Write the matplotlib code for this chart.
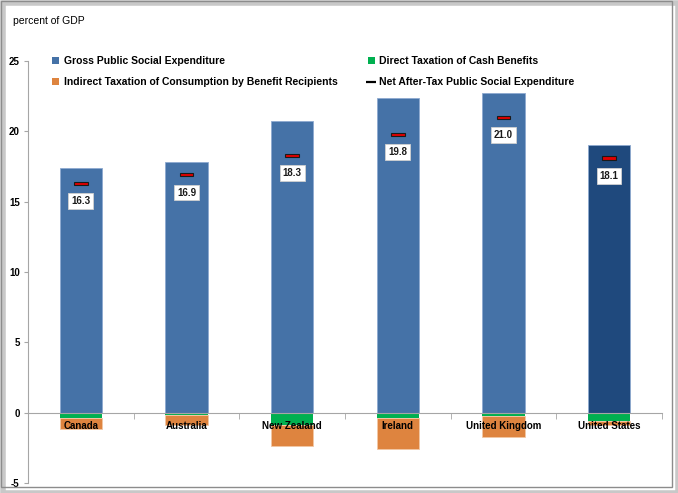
import matplotlib
matplotlib.use("Agg")
import matplotlib.pyplot as plt
from matplotlib.lines import Line2D
from matplotlib.patches import Patch, Rectangle

countries = ["Canada", "Australia", "New Zealand", "Ireland", "United Kingdom", "United States"]
gross = [17.4, 17.8, 20.7, 22.4, 22.7, 19.0]
direct_tax = [-0.35, -0.2, -0.85, -0.35, -0.25, -0.6]
indirect_tax = [-0.8, -0.7, -1.55, -2.2, -1.45, -0.3]
net = [16.3, 16.9, 18.3, 19.8, 21.0, 18.1]
y_ticks = [-5, 0, 5, 10, 15, 20, 25]

BLUE = "#4572A7"
DARK_BLUE = "#1F497D"
GREEN = "#00B050"
ORANGE = "#DE843F"
AXIS_GREY = "#A6A6A6"

plt.rcParams["font.family"] = ["Liberation Sans", "DejaVu Sans"]

fig = plt.figure(figsize=(6.78, 4.93), dpi=100)
ax = fig.add_axes([0.0413, 0.0203, 0.935, 0.856])

# spines first: set_position resets tick formatting
for side in ["top", "right"]:
    ax.spines[side].set_visible(False)
ax.spines["bottom"].set_position(("data", 0))
ax.spines["bottom"].set_color(AXIS_GREY)
ax.spines["bottom"].set_zorder(2.5)
ax.spines["left"].set_color(AXIS_GREY)

x = list(range(len(countries)))
bar_colors = [BLUE] * (len(countries) - 1) + [DARK_BLUE]
ax.bar(x, gross, width=0.4, color=bar_colors, edgecolor="#8DA9D0", linewidth=0.6, zorder=2)
ax.bar(x, direct_tax, width=0.4, color=GREEN, linewidth=0, zorder=2)
ax.bar(x, indirect_tax, width=0.4, bottom=direct_tax, color=ORANGE,
       edgecolor="#F2C7A5", linewidth=0.6, zorder=2)

# net after-tax markers: small red dash with dark outline
ax.bar(x, [0.22] * len(x), width=0.13, bottom=[v - 0.11 for v in net],
       color="#E00000", edgecolor="#1a1a1a", linewidth=0.8, zorder=3)
for xi, v in zip(x, net):
    ax.text(xi, v - 1.25, f"{v:.1f}", ha="center", va="center", fontsize=7,
            fontweight="bold", color="#1a1a1a", zorder=4,
            bbox=dict(boxstyle="square,pad=0.3", facecolor="white",
                      edgecolor="#D0D0D0", linewidth=0.6))

ax.set_xlim(-0.5, len(countries) - 0.5)
ax.set_ylim(-5, 25)
ax.set_yticks(y_ticks)
ax.set_yticklabels([str(t) for t in y_ticks], fontsize=7, fontweight="bold")
ax.tick_params(axis="y", direction="out", length=3, color=AXIS_GREY, pad=3)

ax.set_xticks(x)
ax.set_xticklabels(countries, fontsize=7, fontweight="bold")
ax.set_xticks([i - 0.5 for i in range(len(countries) + 1)], minor=True)
ax.tick_params(axis="x", which="major", length=0, pad=6)
ax.tick_params(axis="x", which="minor", direction="out", length=4, color=AXIS_GREY)
ax.xaxis.set_zorder(4)

handles = [
    Patch(facecolor=BLUE, label="Gross Public Social Expenditure"),
    Patch(facecolor=ORANGE, label="Indirect Taxation of Consumption by Benefit Recipients"),
    Patch(facecolor=GREEN, label="Direct Taxation of Cash Benefits"),
    Line2D([], [], color="black", marker="_", linestyle="none", markersize=7,
           markeredgewidth=1.6, label="Net After-Tax Public Social Expenditure"),
]
fig.legend(handles=handles, ncol=2, loc="upper left", bbox_to_anchor=(0.063, 0.905),
           frameon=False, prop={"size": 7.5, "weight": "bold"}, handlelength=0.7,
           handleheight=0.7, handletextpad=0.4, columnspacing=2.9, labelspacing=1.05)

fig.text(0.019, 0.968, "percent of GDP", fontsize=7.5, va="top", ha="left")

# outer frame with a drop shadow
fig.patches.append(Rectangle((0.004, 0.0), 0.996, 0.994, transform=fig.transFigure,
                             facecolor="none", edgecolor="#C8C8C8", linewidth=4, zorder=0))
fig.patches.append(Rectangle((0.001, 0.012), 0.99, 0.986, transform=fig.transFigure,
                             facecolor="none", edgecolor="#8C8C8C", linewidth=1, zorder=1))

fig.savefig("out.png", dpi=100)
